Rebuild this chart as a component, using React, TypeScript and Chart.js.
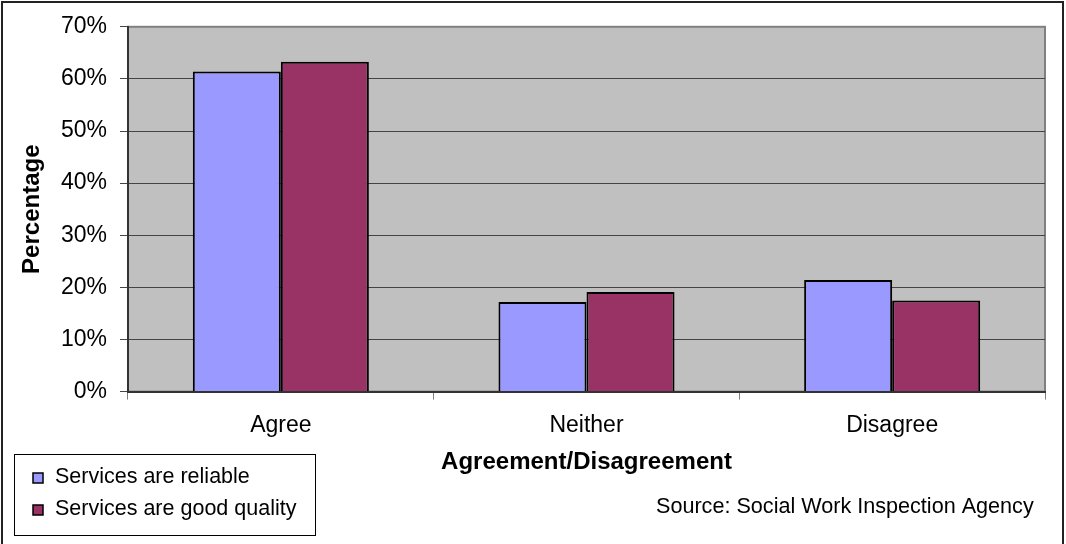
import React, { useEffect, useRef } from "react";
import { Chart, registerables } from "chart.js";

Chart.register(...registerables);

const categories = ["Agree", "Neither", "Disagree"];
const reliableValues = [61.4, 17.2, 21.4];
const qualityValues = [63.3, 19.1, 17.5];
const seriesLabels = ["Services are reliable", "Services are good quality"];
const seriesColors = ["#9999FF", "#993366"];
const yTicks = [0, 10, 20, 30, 40, 50, 60, 70];
const xTitle = "Agreement/Disagreement";
const yTitle = "Percentage";
const sourceText = "Source: Social Work Inspection Agency";

const FONT = "'Liberation Sans', Arial, sans-serif";

const decorPlugin = {
  id: "decor",
  beforeDraw(chart: any) {
    const { ctx, chartArea } = chart;
    ctx.save();
    ctx.fillStyle = "#ffffff";
    ctx.fillRect(0, 0, chart.width, chart.height);
    ctx.fillStyle = "#C0C0C0";
    ctx.fillRect(chartArea.left, chartArea.top, chartArea.right - chartArea.left, chartArea.bottom - chartArea.top);
    ctx.strokeStyle = "#808080";
    ctx.lineWidth = 2;
    ctx.strokeRect(chartArea.left, chartArea.top, chartArea.right - chartArea.left, chartArea.bottom - chartArea.top);
    ctx.restore();
  },
  afterDraw(chart: any) {
    const { ctx } = chart;
    ctx.save();
    // outer border
    ctx.strokeStyle = "#222222";
    ctx.lineWidth = 2;
    ctx.strokeRect(2, 2, 1061, 600);
    // legend box
    ctx.strokeStyle = "#000000";
    ctx.lineWidth = 1;
    ctx.strokeRect(14.5, 454.5, 301, 81);
    ctx.font = `21.5px ${FONT}`;
    ctx.textBaseline = "alphabetic";
    ctx.textAlign = "left";
    const baselines = [483, 515];
    chart.data.datasets.forEach((ds: any, i: number) => {
      const by = baselines[i];
      ctx.fillStyle = ds.backgroundColor;
      ctx.fillRect(33, by - 10, 10, 10);
      ctx.strokeStyle = "#000";
      ctx.lineWidth = 1.5;
      ctx.strokeRect(33, by - 10, 10, 10);
      ctx.fillStyle = "#000";
      ctx.fillText(ds.label, 55, by);
    });
    // source
    ctx.font = `21.6px ${FONT}`;
    ctx.fillText(sourceText, 656, 513);
    ctx.restore();
  },
};

export default function App() {
  const ref = useRef<HTMLCanvasElement | null>(null);
  useEffect(() => {
    if (!ref.current) return;
    const chart = new Chart(ref.current, {
      type: "bar",
      data: {
        labels: categories,
        datasets: [
          {
            label: seriesLabels[0],
            data: reliableValues,
            backgroundColor: seriesColors[0],
            borderColor: "#000000",
            borderWidth: 2,
          },
          {
            label: seriesLabels[1],
            data: qualityValues,
            backgroundColor: seriesColors[1],
            borderColor: "#000000",
            borderWidth: 2,
          },
        ],
      },
      options: {
        responsive: false,
        animation: false,
        layout: { padding: { top: 23, right: 21, left: 0, bottom: 67 } },
        datasets: { bar: { barPercentage: 1, categoryPercentage: 0.576 } },
        plugins: {
          legend: { display: false },
          tooltip: { enabled: false },
        },
        scales: {
          x: {
            grid: {
              offset: true,
              drawOnChartArea: false,
              drawTicks: true,
              tickLength: 8,
              color: "#808080",
              tickColor: "#808080",
            },
            border: { color: "#333333", width: 2 },
            ticks: {
              color: "#000",
              font: { family: FONT, size: 23 },
              padding: 12,
              maxRotation: 0,
            },
            title: {
              display: true,
              text: xTitle,
              color: "#000",
              font: { family: FONT, size: 24, weight: "bold" },
              padding: { top: 0, bottom: 0 },
            },
            afterFit(scale: any) {
              scale.height = 85.4;
            },
          },
          y: {
            min: 0,
            max: 70,
            afterBuildTicks(scale: any) {
              scale.ticks = yTicks.map((v) => ({ value: v }));
            },
            grid: {
              color: (c: any) => (c.tick && c.tick.value === 70 ? "#808080" : "#444444"),
              tickColor: "#444444",
              tickLength: 8,
              lineWidth: 1,
            },
            border: { color: "#333333", width: 2 },
            ticks: {
              color: "#000",
              font: { family: FONT, size: 23 },
              padding: 13,
              callback: (v: any) => `${v}%`,
            },
            title: {
              display: true,
              text: yTitle,
              color: "#000",
              font: { family: FONT, size: 24, weight: "bold" },
              padding: { top: 17.6, bottom: 0 },
            },
            afterFit(scale: any) {
              scale.width = 128;
            },
          },
        },
      },
      plugins: [decorPlugin],
    });
    return () => chart.destroy();
  }, []);
  return (
    <div style={{ position: "absolute", left: 0, top: 0, width: 1066, height: 544 }}>
      <canvas ref={ref} width={1066} height={544} />
    </div>
  );
}
